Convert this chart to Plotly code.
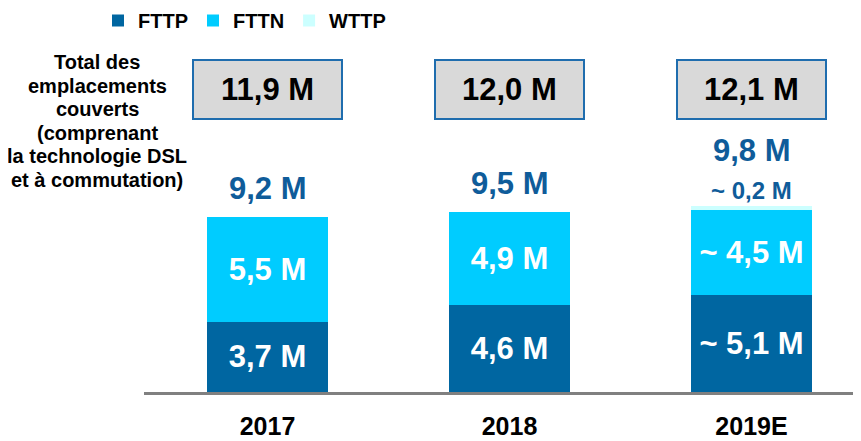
import plotly.graph_objects as go

# ---- data ----
years = ["2017", "2018", "2019E"]
fttp = [3.7, 4.6, 5.1]
fttn = [5.5, 4.9, 4.5]
wttp = [None, None, 0.2]
fttp_labels = ["3,7 M", "4,6 M", "~ 5,1 M"]
fttn_labels = ["5,5 M", "4,9 M", "~ 4,5 M"]
wttp_labels = ["", "", "~ 0,2 M"]
totals = [9.2, 9.5, 9.8]
total_labels = ["9,2 M", "9,5 M", "9,8 M"]
covered_labels = ["11,9 M", "12,0 M", "12,1 M"]
side_lines = ["Total des", "emplacements", "couverts", "(comprenant",
              "la technologie DSL", "et à commutation)"]

FONT = "Liberation Sans, Arial, sans-serif"
C_FTTP = "#0066A1"
C_FTTN = "#00CCFF"
C_WTTP = "#CCFFFF"
C_TOTAL = "#0F5C9A"

# page body has an 8px default margin: figure origin sits at window (8, 8)
OFF = 8
W, H = 861 - OFF, 441 - OFF
BASE_WIN = 392          # window y of the axis line
PLOT_LEFT_WIN = 144     # window x of the plot's left edge
ML = PLOT_LEFT_WIN - OFF
MR, MT = 0, 0
MB = H - (BASE_WIN - OFF)
PW = W - ML - MR
PH = H - MT - MB
PX_PER_M = 19.0
PX_PER_CAT = 242.0
x_left = -(267.5 - PLOT_LEFT_WIN) / PX_PER_CAT
x_right = x_left + PW / PX_PER_CAT


def py(ywin):
    return (BASE_WIN - ywin) / PH


def px(xwin):
    return (xwin - PLOT_LEFT_WIN) / PW


fig = go.Figure()
fig.add_trace(go.Bar(
    x=years, y=fttp, name="FTTP", marker=dict(color=C_FTTP, line=dict(width=0)),
    text=fttp_labels, textposition="inside", insidetextanchor="middle",
    textangle=0, constraintext="none",
    textfont=dict(family=FONT, size=31, color="white", weight=700),
    hoverinfo="skip"))
fig.add_trace(go.Bar(
    x=years, y=fttn, name="FTTN", marker=dict(color=C_FTTN, line=dict(width=0)),
    text=fttn_labels, textposition="inside", insidetextanchor="middle",
    textangle=0, constraintext="none",
    textfont=dict(family=FONT, size=31, color="white", weight=700),
    hoverinfo="skip"))
fig.add_trace(go.Bar(
    x=years, y=wttp, name="WTTP", marker=dict(color=C_WTTP, line=dict(width=0)),
    textposition="none", hoverinfo="skip"))

annotations = []
shapes = []
half = 74.5 / PX_PER_CAT
for i, yr in enumerate(years):
    if wttp_labels[i]:
        annotations.append(dict(
            x=i, y=totals[i], xref="x", yref="y", text=wttp_labels[i],
            showarrow=False, yanchor="bottom", yshift=0,
            font=dict(family=FONT, size=24, color=C_TOTAL, weight=700)))
        shift = 36
    else:
        shift = 9
    annotations.append(dict(
        x=i, y=totals[i], xref="x", yref="y", text=total_labels[i],
        showarrow=False, yanchor="bottom", yshift=shift,
        font=dict(family=FONT, size=31, color=C_TOTAL, weight=700)))
    shapes.append(dict(
        type="rect", xref="x", yref="paper", x0=i - half, x1=i + half,
        y0=py(119), y1=py(60), fillcolor="#D9D9D9",
        line=dict(color="#1F6DAE", width=2), layer="above"))
    annotations.append(dict(
        x=i, y=py(89.5), xref="x", yref="paper", text=covered_labels[i],
        showarrow=False, yanchor="middle", xanchor="center",
        font=dict(family=FONT, size=31, color="black", weight=700)))

for k, line in enumerate(side_lines):
    annotations.append(dict(
        x=px(97), y=py(62 + 23.6 * k), xref="paper", yref="paper", text=line,
        showarrow=False, xanchor="center", yanchor="middle", align="center",
        font=dict(family=FONT, size=20, color="black", weight=700)))

fig.update_layout(
    width=W, height=H,
    margin=dict(l=ML, r=MR, t=MT, b=MB, autoexpand=False),
    barmode="stack", bargap=0.5,
    paper_bgcolor="white", plot_bgcolor="white",
    showlegend=True,
    legend=dict(orientation="h", x=px(98), y=py(1), xanchor="left", yanchor="top",
                font=dict(family=FONT, size=20, color="black", weight=700),
                traceorder="normal",
                bgcolor="rgba(0,0,0,0)"),
    xaxis=dict(type="category", range=[x_left, x_right], showline=True,
               linecolor="#808080", linewidth=3, ticks="", showgrid=False,
               zeroline=False,
               tickfont=dict(family=FONT, size=25, color="black", weight=700),
               ticklabelstandoff=10, fixedrange=True),
    yaxis=dict(range=[0, PH / PX_PER_M], visible=False, showgrid=False,
               zeroline=False, fixedrange=True),
    annotations=annotations, shapes=shapes,
)

fig.write_html("out.html")
